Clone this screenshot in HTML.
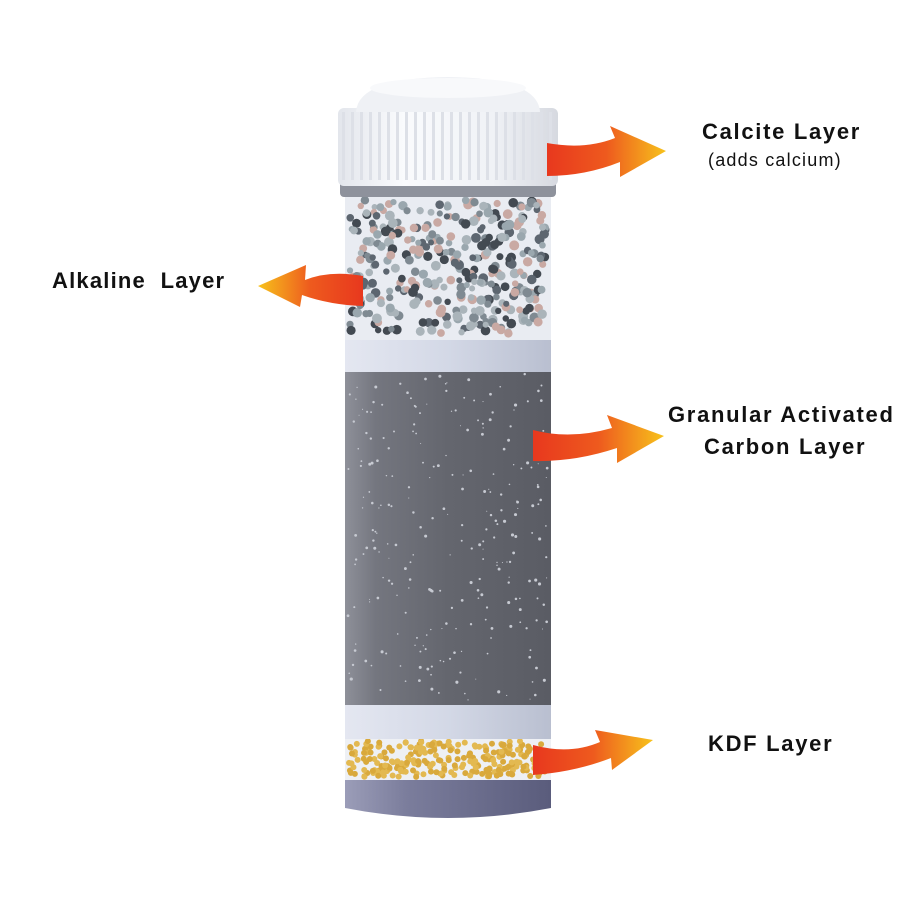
<!DOCTYPE html>
<html><head><meta charset="utf-8"><style>
body{margin:0;background:#fff;width:900px;height:900px;overflow:hidden;font-family:"Liberation Sans",sans-serif}
.t{position:absolute;font-weight:bold;font-size:22px;letter-spacing:1.7px;color:#111;white-space:pre}
</style></head><body>
<svg id="s" width="900" height="900" style="position:absolute;left:0;top:0">
<defs>
<linearGradient id="body" x1="0" x2="1"><stop offset="0" stop-color="#8e9099"/><stop offset=".15" stop-color="#74767f"/><stop offset=".5" stop-color="#64666e"/><stop offset="1" stop-color="#5a5c64"/></linearGradient>
<linearGradient id="wb" x1="0" x2="1"><stop offset="0" stop-color="#e4e7f1"/><stop offset=".5" stop-color="#d3d8e6"/><stop offset="1" stop-color="#b9bfd0"/></linearGradient>
<linearGradient id="db" x1="0" x2="1"><stop offset="0" stop-color="#9b9db8"/><stop offset=".3" stop-color="#7b7d9c"/><stop offset="1" stop-color="#5a5c7c"/></linearGradient>
<linearGradient id="cap" x1="0" x2="1"><stop offset="0" stop-color="#e3e6ec"/><stop offset=".3" stop-color="#fafbfd"/><stop offset=".7" stop-color="#f0f2f6"/><stop offset="1" stop-color="#d6d9e0"/></linearGradient>
<linearGradient id="ar" x1="0" x2="1"><stop offset="0" stop-color="#e8381e"/><stop offset=".5" stop-color="#ee5a1e"/><stop offset="1" stop-color="#f7c21c"/></linearGradient>
<linearGradient id="al" x1="1" x2="0"><stop offset="0" stop-color="#e8381e"/><stop offset=".5" stop-color="#ee5a1e"/><stop offset="1" stop-color="#f7c21c"/></linearGradient>
</defs>
<path d="M345 778 H551 V808 Q448 828 345 808 Z" fill="url(#db)"/>
<rect x="345" y="738" width="206" height="42" fill="#eef0f4"/>
<g id="kdf"></g>
<rect x="345" y="703" width="206" height="36" fill="url(#wb)"/>
<rect x="345" y="370" width="206" height="335" fill="url(#body)"/>
<g id="cdots"></g>
<rect x="345" y="338" width="206" height="34" fill="url(#wb)"/>
<rect x="345" y="195" width="206" height="145" fill="#e9ecf2"/>
<g id="alk"></g>
<rect x="340" y="180" width="216" height="17" rx="4" fill="#8e929c"/>
<rect x="338" y="108" width="220" height="78" rx="6" fill="url(#cap)"/>
<g id="rib"></g>
<path d="M356 112 Q358 78 448 77 Q538 78 540 112 Z" fill="#eff1f5"/>
<ellipse cx="448" cy="88" rx="78" ry="10" fill="#f8f9fb"/>
<path d="M547 143 Q585 150 615 138 L610 126 L666 151 L620 177 L620 162 Q585 176 547 176 Z" fill="url(#ar)"/>
<path d="M363 276 Q330 270 305 280 L306 265 L258 286 L300 307 L302 295 Q330 305 363 306 Z" fill="url(#al)"/>
<path d="M533 430 Q570 440 612 428 L607 415 L664 436 L617 463 L617 448 Q575 462 533 461 Z" fill="url(#ar)"/>
<path d="M533 745 Q570 755 600 742 L595 730 L653 740 L612 770 L611 758 Q575 772 533 775 Z" fill="url(#ar)"/>
</svg>
<div class="t" style="left:702px;top:119px">Calcite Layer</div>
<div class="t" style="left:708px;top:150px;font-weight:normal;font-size:18px;letter-spacing:1.2px">(adds calcium)</div>
<div class="t" style="left:52px;top:268px;letter-spacing:1.2px">Alkaline  Layer</div>
<div class="t" style="left:668px;top:402px">Granular Activated</div>
<div class="t" style="left:704px;top:434px">Carbon Layer</div>
<div class="t" style="left:708px;top:731px">KDF Layer</div>
<script>
var ns="http://www.w3.org/2000/svg",seed=7;function r(){seed=(seed*16807)%2147483647;return seed/2147483647;}
function c(g,x,y,rr,f){var e=document.createElementNS(ns,"circle");e.setAttribute("cx",x);e.setAttribute("cy",y);e.setAttribute("r",rr);e.setAttribute("fill",f);document.getElementById(g).appendChild(e);}
var ac=["#5d6670","#7f8a92","#9aa7ae","#c9a9a3","#434a52","#aab4ba"];
for(var i=0;i<380;i++)c("alk",350+r()*196,200+r()*135,3+r()*2,ac[Math.floor(r()*6)]);
for(var i=0;i<260;i++)c("kdf",349+r()*198,741+r()*36,3,r()<.5?"#d9a93c":"#e3b951");
for(var i=0;i<260;i++)c("cdots",348+r()*200,374+r()*328,.5+r()*1.1,"#c7cad2");
for(var x=342;x<556;x+=9){var e=document.createElementNS(ns,"rect");e.setAttribute("x",x);e.setAttribute("y",112);e.setAttribute("width",3);e.setAttribute("height",68);e.setAttribute("fill","#dde0e7");document.getElementById("rib").appendChild(e);}
</script>
</body></html>
